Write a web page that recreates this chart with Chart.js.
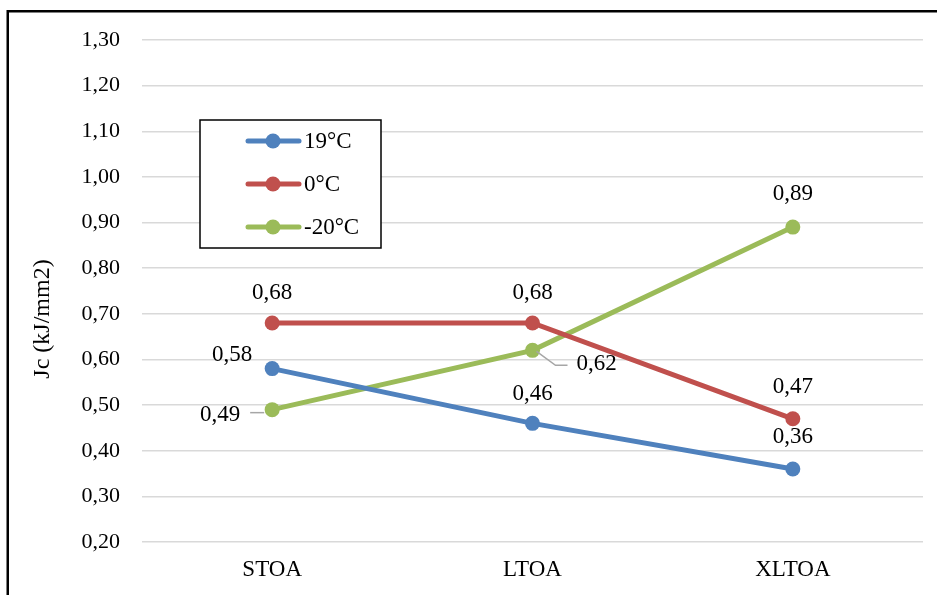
<!DOCTYPE html>
<html>
<head>
<meta charset="utf-8">
<script src="https://cdn.jsdelivr.net/npm/chart.js@4/dist/chart.umd.min.js"></script>
<style>
  html, body { margin: 0; padding: 0; background: #ffffff; }
  #wrap { position: relative; width: 937px; height: 595px; }
</style>
</head>
<body>
<div id="wrap"><canvas id="c" width="937" height="595"></canvas></div>
<script>
// Fracture toughness Jc per specimen type, at three test temperatures
const categories = ['STOA', 'LTOA', 'XLTOA'];
const seriesNames = ['19°C', '0°C', '-20°C'];
const jc19 = [0.58, 0.46, 0.36];
const jc0 = [0.68, 0.68, 0.47];
const jcMinus20 = [0.49, 0.62, 0.89];
const yMin = 0.20, yMax = 1.30, yStep = 0.10;
const yTitle = 'Jc (kJ/mm2)';

const colors = ['#4F81BD', '#C0504D', '#9BBB59'];
const FONT = '"Liberation Serif", "Times New Roman", serif';

// value label placement relative to each point: [dx, dy]
const labelOffsets = [
  [[-40, -14], [0, -29], [0, -32]],
  [[0, -30], [0, -30], [0, -32]],
  [[-52, 5], [64, 14], [0, -33]]
];
// leader lines (relative to the point) for labels set away from their point
const leaders = {
  '2-0': [[-8, 3], [-10, 3], [-22, 3]],
  '2-1': [[4, 1], [23, 15], [35, 15]]
};

const fmt = v => v.toFixed(2).replace('.', ',');

const frame = {
  id: 'frame',
  beforeDraw(chart) {
    const ctx = chart.ctx;
    ctx.save();
    ctx.fillStyle = '#ffffff';
    ctx.fillRect(0, 0, chart.width, chart.height);
    ctx.strokeStyle = '#000000';
    ctx.lineWidth = 2.5;
    ctx.beginPath();
    ctx.moveTo(7.75, chart.height);
    ctx.lineTo(7.75, 11.25);
    ctx.lineTo(chart.width, 11.25);
    ctx.stroke();
    ctx.restore();
  }
};

const valueLabels = {
  id: 'valueLabels',
  afterDatasetsDraw(chart) {
    const ctx = chart.ctx;
    ctx.save();
    chart.data.datasets.forEach((ds, di) => {
      const meta = chart.getDatasetMeta(di);
      meta.data.forEach((pt, i) => {
        const key = di + '-' + i;
        if (leaders[key]) {
          ctx.strokeStyle = '#A6A6A6';
          ctx.lineWidth = 1.5;
          ctx.beginPath();
          leaders[key].forEach(([lx, ly], k) => {
            if (k === 0) ctx.moveTo(pt.x + lx, pt.y + ly);
            else ctx.lineTo(pt.x + lx, pt.y + ly);
          });
          ctx.stroke();
        }
        const [dx, dy] = labelOffsets[di][i];
        ctx.fillStyle = '#000000';
        ctx.font = '23px ' + FONT;
        ctx.textAlign = 'center';
        ctx.textBaseline = 'middle';
        ctx.fillText(fmt(ds.data[i]), pt.x + dx, pt.y + dy);
      });
    });
    ctx.restore();
  }
};

const boxLegend = {
  id: 'boxLegend',
  afterDraw(chart) {
    const ctx = chart.ctx;
    ctx.save();
    ctx.fillStyle = '#ffffff';
    ctx.fillRect(200, 120, 181, 128);
    ctx.strokeStyle = '#000000';
    ctx.lineWidth = 1.5;
    ctx.strokeRect(200, 120, 181, 128);
    chart.data.datasets.forEach((ds, i) => {
      const y = 141 + i * 43;
      ctx.strokeStyle = ds.borderColor;
      ctx.lineWidth = 5;
      ctx.lineCap = 'round';
      ctx.beginPath();
      ctx.moveTo(248, y);
      ctx.lineTo(299, y);
      ctx.stroke();
      ctx.fillStyle = ds.borderColor;
      ctx.beginPath();
      ctx.arc(273, y, 7.5, 0, Math.PI * 2);
      ctx.fill();
      ctx.fillStyle = '#000000';
      ctx.font = '23px ' + FONT;
      ctx.textAlign = 'left';
      ctx.textBaseline = 'middle';
      ctx.fillText(ds.label, 304, y + 1);
    });
    ctx.restore();
  }
};

const axisTitle = {
  id: 'axisTitle',
  afterDraw(chart) {
    const ctx = chart.ctx;
    ctx.save();
    ctx.translate(43, 319);
    ctx.rotate(-Math.PI / 2);
    ctx.fillStyle = '#000000';
    ctx.font = '24px ' + FONT;
    ctx.textAlign = 'center';
    ctx.textBaseline = 'middle';
    ctx.fillText(yTitle, 0, 0);
    ctx.restore();
  }
};

const seriesData = [jc19, jc0, jcMinus20];

new Chart(document.getElementById('c'), {
  type: 'line',
  data: {
    labels: categories,
    datasets: seriesNames.map((name, i) => ({
      label: name,
      data: seriesData[i],
      borderColor: colors[i],
      backgroundColor: colors[i],
      pointBackgroundColor: colors[i],
      pointBorderColor: colors[i],
      borderWidth: 5,
      pointRadius: 7.5,
      pointBorderWidth: 0,
      tension: 0,
      fill: false
    }))
  },
  options: {
    responsive: false,
    animation: false,
    devicePixelRatio: 1,
    layout: { padding: { left: 0, right: 14, top: 40, bottom: 0 } },
    plugins: {
      legend: { display: false },
      tooltip: { enabled: false },
      title: { display: false }
    },
    scales: {
      x: {
        offset: true,
        grid: { display: false, drawTicks: false },
        border: { display: false },
        ticks: {
          color: '#000000',
          font: { family: FONT, size: 23 },
          padding: 14
        },
        afterFit: s => { s.height = 53; }
      },
      y: {
        min: yMin,
        max: yMax,
        grid: { color: '#D9D9D9', lineWidth: 1.5, drawTicks: false },
        border: { display: false },
        ticks: {
          stepSize: yStep,
          color: '#000000',
          font: { family: FONT, size: 22 },
          padding: 22,
          callback: v => fmt(v)
        },
        afterFit: s => { s.width = 142; }
      }
    }
  },
  plugins: [frame, valueLabels, boxLegend, axisTitle]
});
</script>
</body>
</html>
